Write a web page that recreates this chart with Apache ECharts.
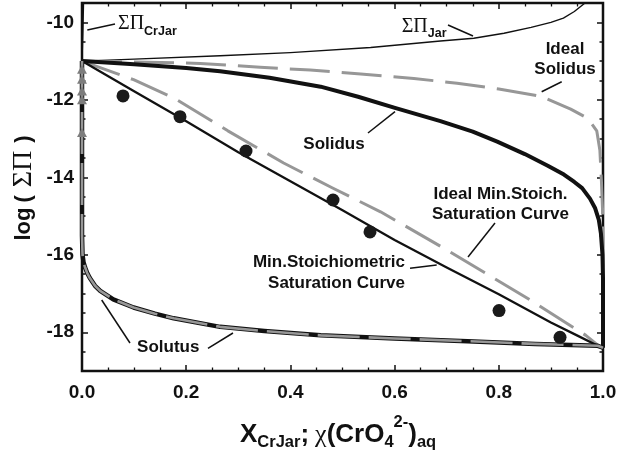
<!DOCTYPE html>
<html>
<head>
<meta charset="utf-8">
<script src="https://cdn.jsdelivr.net/npm/echarts@6/dist/echarts.min.js"></script>
<style>
  html, body { margin: 0; padding: 0; background: #fff; }
  #chart { width: 632px; height: 460px; }
</style>
</head>
<body>
<div id="chart"></div>
<script>
// ---- axis ticks ----
const xTicks = [0, 0.2, 0.4, 0.6, 0.8, 1.0];
const yTicks = [-18, -16, -14, -12, -10];

// ---- total solubility product curves (log ΣΠ vs. mole fraction) ----
// ΣΠ of the Cr-jarosite end member (runs up the left edge)
const crJarX = [0, 0.001, 0.002, 0.003];
const crJarY = [-11, -10.6, -10.1, -9.5];

// ΣΠ of the jarosite end member
const jarX = [0, 0.1, 0.265, 0.4, 0.554, 0.688, 0.752, 0.81, 0.862, 0.9, 0.924, 0.945, 0.9655];
const jarY = [-11, -10.95, -10.86, -10.78, -10.65, -10.48, -10.41, -10.28, -10.13, -10.0, -9.89, -9.72, -9.5];

// Ideal solidus
const idealSolidusX = [0, 0.1, 0.227, 0.342, 0.438, 0.535, 0.637, 0.72, 0.8, 0.881, 0.938, 0.971, 0.988, 0.994, 0.997, 0.999, 1.0, 1.0];
const idealSolidusY = [-11, -11.02, -11.06, -11.16, -11.23, -11.33, -11.45, -11.57, -11.72, -11.91, -12.24, -12.48, -12.8, -13.3, -14.1, -14.8, -15.5, -18.4];

// Solidus
const solidusX = [0, 0.1, 0.2, 0.265, 0.36, 0.458, 0.53, 0.599, 0.688, 0.75, 0.797, 0.85, 0.894, 0.925, 0.945, 0.96, 0.975, 0.985, 0.992, 0.996, 0.999, 1.0, 1.0];
const solidusY = [-11, -11.08, -11.18, -11.26, -11.43, -11.66, -11.92, -12.2, -12.55, -12.82, -13.08, -13.4, -13.7, -13.93, -14.12, -14.28, -14.55, -14.8, -15.1, -15.45, -16.0, -16.6, -18.4];

// Ideal minimum stoichiometric saturation curve
const idealMscX = [0, 0.099, 0.176, 0.28, 0.387, 0.48, 0.573, 0.701, 0.862, 0.967, 0.99];
const idealMscY = [-11, -11.48, -11.95, -12.8, -13.63, -14.27, -14.89, -15.88, -17.18, -18.08, -18.33];

// Minimum stoichiometric saturation curve
const mscX = [0, 0.1, 0.2, 0.3, 0.4, 0.5, 0.6, 0.7, 0.8, 0.9, 0.95, 0.99, 1.0];
const mscY = [-11, -11.78, -12.55, -13.35, -14.1, -14.85, -15.62, -16.33, -17.02, -17.75, -18.08, -18.35, -18.38];

// Solutus (real and ideal coincide)
const solutusX = [0, 0, 0.001, 0.003, 0.006, 0.01, 0.015, 0.025, 0.035, 0.06, 0.099, 0.14, 0.176, 0.265, 0.35, 0.458, 0.6, 0.74, 0.87, 0.99, 1.0];
const solutusY = [-11, -15.5, -16.0, -16.2, -16.33, -16.47, -16.6, -16.8, -16.93, -17.15, -17.36, -17.52, -17.64, -17.86, -17.97, -18.08, -18.16, -18.23, -18.3, -18.35, -18.4];

// Experimental end points
const dotX = [0.0787, 0.1881, 0.3148, 0.4818, 0.5528, 0.8004, 0.9175];
const dotY = [-11.90, -12.435, -13.32, -14.586, -15.41, -17.44, -18.13];

// Aqueous data at the Cr-free end
const triX = [0, 0, 0, 0, 0];
const triY = [-11.21, -11.47, -11.77, -12.0, -12.84];

const pairs = (xs, ys) => xs.map((x, i) => [x, ys[i]]);

const SANS = '"Liberation Sans", Arial, sans-serif';
const SERIF = '"Liberation Serif", "Times New Roman", serif';
const INK = '#111';
const GRAY = '#979797';

const yMinor = [];
for (let v = -19; v <= -9.5; v += 0.5) {
  if (!(Number.isInteger(v) && v % 2 === 0)) yMinor.push(v);
}

const tickLine = { color: INK, width: 1.5 };
const labelStyle = { fontFamily: SANS, fontWeight: 'bold', fontSize: 19, color: INK };

function xAxisAt(pos, showLabel) {
  return {
    type: 'value', position: pos, gridIndex: 0,
    min: xTicks[0], max: xTicks[xTicks.length - 1], interval: xTicks[1] - xTicks[0],
    axisLine: { show: false }, splitLine: { show: false },
    axisTick: { show: true, inside: true, length: 6, lineStyle: tickLine },
    minorTick: { show: true, splitNumber: 4, length: 3.5, lineStyle: { color: INK, width: 1.3 } },
    axisLabel: Object.assign({ show: showLabel, margin: 12, formatter: v => v.toFixed(1) }, labelStyle)
  };
}
function yAxisAt(pos, values, len, showLabel) {
  return {
    type: 'value', position: pos, gridIndex: 0, min: -19, max: -9.5,
    axisLine: { show: false }, splitLine: { show: false },
    axisTick: { show: true, inside: true, length: len, customValues: values, lineStyle: tickLine },
    axisLabel: Object.assign({ show: showLabel, margin: 8, customValues: values, formatter: v => String(v) }, labelStyle)
  };
}

function curve(xs, ys, color, width, dash, z) {
  return {
    type: 'line', data: pairs(xs, ys), showSymbol: false, clip: false, z: z,
    lineStyle: { color: color, width: width, type: dash || 'solid', cap: 'butt', join: 'round' },
    emphasis: { disabled: true }, silent: true, animation: false
  };
}

// leader lines from the annotations to their curves
const leaders = [
  [[0.0102, -10.197], [0.0633, -10.042]],
  [[0.7025, -10.068], [0.7505, -10.352]],
  [[0.9207, -11.532], [0.8823, -11.790]],
  [[0.5489, -12.856], [0.6008, -12.306]],
  [[0.7927, -15.179], [0.7409, -16.057]],
  [[0.6296, -16.349], [0.6808, -16.264]],
  [[0.0378, -17.167], [0.0921, -18.277]],
  [[0.2418, -18.414], [0.2898, -18.019]]
];

const series = [
  curve(crJarX, crJarY, INK, 1.3, null, 2),
  curve(jarX, jarY, INK, 1.4, null, 2),
  curve(idealSolidusX, idealSolidusY, GRAY, 3, [40, 12], 2),
  curve(solidusX, solidusY, INK, 4, null, 3),
  curve(idealMscX, idealMscY, GRAY, 3, [40, 12], 2),
  curve(mscX, mscY, INK, 2.3, null, 3),
  curve(solutusX, solutusY, INK, 4.5, null, 3),
  curve(solutusX, solutusY, GRAY, 2.6, [42, 9], 4)
];
leaders.forEach(seg => {
  series.push(curve(seg.map(p => p[0]), seg.map(p => p[1]), INK, 1.5, null, 5));
});
series.push({
  type: 'scatter', data: pairs(triX, triY), symbol: 'triangle', symbolSize: [10, 9],
  itemStyle: { color: '#7d7d7d', opacity: 1 }, z: 6, clip: false, silent: true, animation: false
});
series.push({
  type: 'scatter', data: pairs(dotX, dotY), symbol: 'circle', symbolSize: 13,
  itemStyle: { color: '#1a1a1a', opacity: 1 }, z: 7, silent: true, animation: false
});

const chart = echarts.init(document.getElementById('chart'));
chart.setOption({
  animation: false,
  backgroundColor: '#fff',
  grid: { left: 82, right: 29, top: 3, bottom: 89, show: true, borderColor: INK, borderWidth: 2.5, backgroundColor: 'transparent' },
  xAxis: [xAxisAt('bottom', true), xAxisAt('top', false)],
  yAxis: [
    yAxisAt('left', yTicks, 6, true),
    yAxisAt('left', yMinor, 3.5, false),
    yAxisAt('right', yTicks, 6, false),
    yAxisAt('right', yMinor, 3.5, false)
  ],
  series: series
});

// ---- text annotations with sub/superscripts ----
const mctx = document.createElement('canvas').getContext('2d');
function pieces(list, align) {
  const w = list.map(p => { mctx.font = p.font; return mctx.measureText(p.t).width; });
  let total = 0;
  w.forEach((v, i) => { total += v + (i < w.length - 1 ? (list[i].gap || 0) : 0); });
  let x = align === 'center' ? -total / 2 : align === 'right' ? -total : 0;
  return list.map((p, i) => {
    const el = {
      type: 'text', x: x, y: p.dy || 0, silent: true,
      style: { text: p.t, font: p.font, fill: INK, align: 'left', verticalAlign: 'middle', textAlign: 'left', textVerticalAlign: 'middle' }
    };
    x += w[i] + (list[i].gap || 0);
    return el;
  });
}

const B17 = 'bold 17px ' + SANS;
const SIG = '20px ' + SERIF;
const SUBF = 'bold 12.5px ' + SANS;
const notes = [
  { at: [0.0691, -10.042], align: 'left', parts: [{ t: 'ΣΠ', font: SIG }, { t: 'CrJar', font: SUBF, dy: 8 }] },
  { at: [0.6136, -10.112], align: 'left', parts: [{ t: 'ΣΠ', font: SIG }, { t: 'Jar', font: SUBF, dy: 7 }] },
  { at: [0.9271, -10.687], align: 'center', parts: [{ t: 'Ideal', font: B17 }] },
  { at: [0.9271, -11.204], align: 'center', parts: [{ t: 'Solidus', font: B17 }] },
  { at: [0.4837, -13.140], align: 'center', parts: [{ t: 'Solidus', font: B17 }] },
  { at: [0.8033, -14.431], align: 'center', parts: [{ t: 'Ideal Min.Stoich.', font: B17 }] },
  { at: [0.8033, -14.960], align: 'center', parts: [{ t: 'Saturation Curve', font: B17 }] },
  { at: [0.6200, -16.204], align: 'right', parts: [{ t: 'Min.Stoichiometric', font: B17 }] },
  { at: [0.6200, -16.728], align: 'right', parts: [{ t: 'Saturation Curve', font: B17 }] },
  { at: [0.1656, -18.393], align: 'center', parts: [{ t: 'Solutus', font: B17 }] }
];

const graphics = notes.map(n => {
  const p = chart.convertToPixel({ xAxisIndex: 0, yAxisIndex: 0 }, n.at);
  return { type: 'group', x: p[0], y: p[1], children: pieces(n.parts, n.align) };
});

// axis titles
const T = 'bold 26px ' + SANS;
const TS = 'bold 16.5px ' + SANS;
graphics.push({
  type: 'group', x: 240, y: 435,
  children: pieces([
    { t: 'X', font: T },
    { t: 'CrJar', font: TS, dy: 7.5 },
    { t: ';', font: T, gap: 6 },
    { t: 'χ', font: '26px ' + SERIF },
    { t: '(CrO', font: T },
    { t: '4', font: TS, dy: 7.5 },
    { t: '2-', font: TS, dy: -13 },
    { t: ')', font: T },
    { t: 'aq', font: TS, dy: 7 }
  ], 'left')
});
graphics.push({
  type: 'group', x: 24, y: 188, rotation: Math.PI / 2,
  children: pieces([
    { t: 'log', font: 'bold 22px ' + SANS, gap: 5 },
    { t: '(', font: 'bold 22px ' + SANS, gap: 8 },
    { t: 'ΣΠ', font: '28px ' + SERIF, gap: 8 },
    { t: ')', font: 'bold 22px ' + SANS }
  ], 'center')
});

chart.setOption({ graphic: graphics });
</script>
</body>
</html>
